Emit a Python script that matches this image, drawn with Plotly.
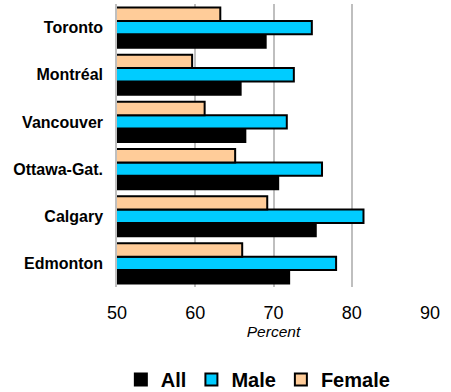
import plotly.graph_objects as go

cities = ["Toronto", "Montréal", "Vancouver", "Ottawa-Gat.", "Calgary", "Edmonton"]
all_vals = [69.0, 65.8, 66.4, 70.6, 75.4, 72.0]
male_vals = [74.9, 72.6, 71.7, 76.2, 81.5, 78.0]
female_vals = [63.2, 59.6, 61.2, 65.1, 69.2, 66.0]
x_ticks = [50, 60, 70, 80, 90]

FONT = "Arial, Liberation Sans, sans-serif"

fig = go.Figure()
# first trace sits lowest in each group, so All -> Male -> Female (top)
fig.add_trace(go.Bar(y=cities, x=all_vals, name="All", orientation="h",
                     marker=dict(color="#000000", line=dict(color="#000000", width=2))))
fig.add_trace(go.Bar(y=cities, x=male_vals, name="Male", orientation="h",
                     marker=dict(color="#00CCFF", line=dict(color="#000000", width=2))))
fig.add_trace(go.Bar(y=cities, x=female_vals, name="Female", orientation="h",
                     marker=dict(color="#FFCC99", line=dict(color="#000000", width=2))))

fig.update_layout(
    width=451, height=392,
    margin=dict(l=117, r=21, t=4, b=105, autoexpand=False),
    barmode="group", bargap=0.15, bargroupgap=0,
    plot_bgcolor="white", paper_bgcolor="white",
    font=dict(family=FONT, color="#000000"),
    showlegend=True,
    legend=dict(orientation="h", x=0.45, xanchor="center", y=-0.327, yanchor="middle",
                font=dict(size=20, family=FONT, weight="bold"), traceorder="normal",
                itemwidth=30, tracegroupgap=0),
)
fig.update_xaxes(range=[50, 90], tickvals=x_ticks, showgrid=True, gridcolor="#BFBFBF",
                 gridwidth=1.5, zeroline=False, showline=False, ticks="", automargin=False,
                 tickfont=dict(size=18), ticklabelstandoff=13,
                 title=dict(text="<i>Percent</i>", font=dict(size=15.5), standoff=2))
fig.update_yaxes(categoryorder="array", categoryarray=cities[::-1], automargin=False,
                 showline=True, linecolor="#BFBFBF", linewidth=1.5,
                 ticks="", tickfont=dict(size=16, weight="bold"), ticklabelstandoff=9)

fig.write_html("out.html", config={"displayModeBar": False},
               post_script="document.body.style.margin='0';document.body.style.overflow='hidden';")
